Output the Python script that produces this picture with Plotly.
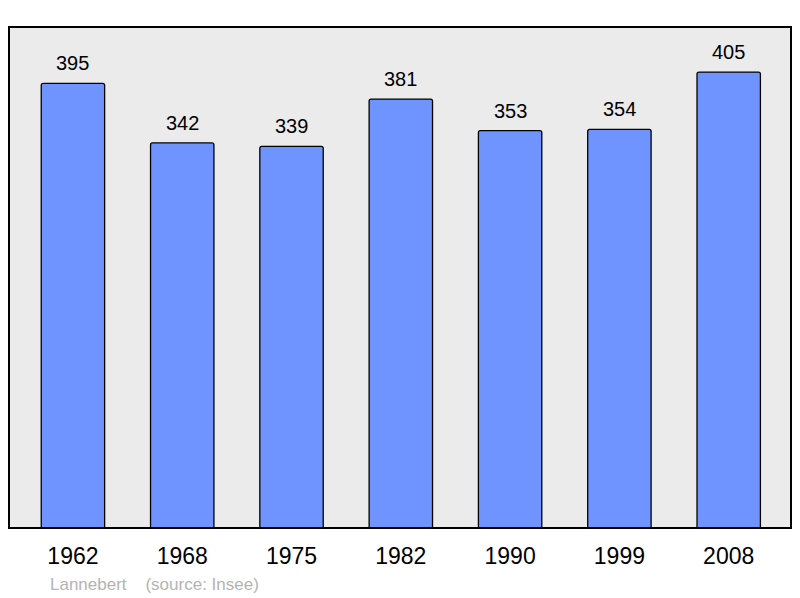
import plotly.graph_objects as go

# Population by census year
years = ['1962', '1968', '1975', '1982', '1990', '1999', '2008']
population = [395, 342, 339, 381, 353, 354, 405]

fig = go.Figure()

fig.add_trace(go.Bar(
    x=years,
    y=population,
    width=0.58,
    marker=dict(color='#7094ff', line=dict(color='#000000', width=1.3), cornerradius=2),
    hoverinfo='x+y',
))

# value labels above the bars (category index for x)
for i, val in enumerate(population):
    fig.add_annotation(
        x=i, y=val, text=str(val), showarrow=False,
        yanchor='bottom', yshift=7,
        font=dict(family='Liberation Sans, Arial', size=20, color='#000000'),
    )

# footer credit
fig.add_annotation(
    xref='paper', yref='paper', x=0.05, y=-0.113, xanchor='left', yanchor='middle',
    text='Lannebert\u00a0\u00a0\u00a0\u00a0(source: Insee)', showarrow=False,
    font=dict(family='Liberation Sans, Arial', size=17, color='#b4b4b4'),
)

# frame around the plot area
fig.add_shape(
    type='rect', xref='paper', yref='paper', x0=0, y0=0, x1=1, y1=1,
    line=dict(color='#000000', width=2), layer='above',
)

# page body has an 8px margin, so the figure is sized to fit inside it
fig.update_layout(
    width=784, height=590,
    margin=dict(l=1, r=1, t=19, b=70),
    paper_bgcolor='#ffffff',
    plot_bgcolor='#ebebeb',
    showlegend=False,
    xaxis=dict(
        type='category', range=[-0.585, 6.57], showgrid=False, zeroline=False,
        ticks='', ticklabelstandoff=12,
        tickfont=dict(family='Liberation Sans, Arial', size=23, color='#000000'),
    ),
    yaxis=dict(range=[0, 445], showgrid=False, zeroline=False, showticklabels=False),
)

fig.write_html('out.html')
